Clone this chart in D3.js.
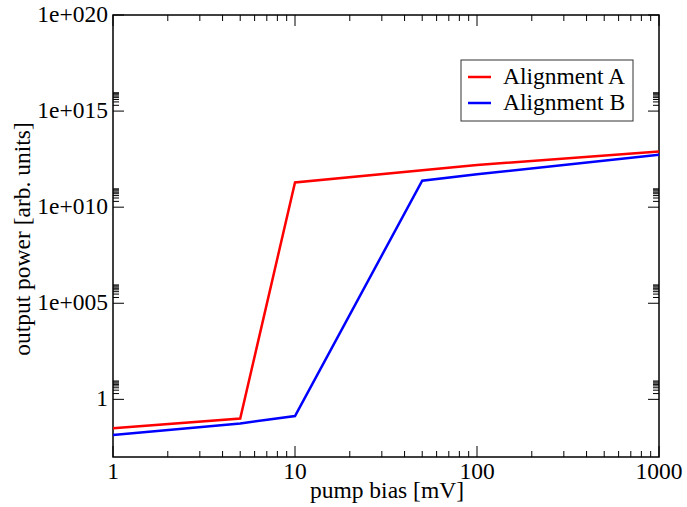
<!DOCTYPE html>
<html>
<head>
<meta charset="utf-8">
<script src="https://cdn.jsdelivr.net/npm/d3@7"></script>
<style>
  body { margin: 0; background: #fff; }
  svg { display: block; font-family: "Liberation Serif", "Times New Roman", serif; }
</style>
</head>
<body>
<svg id="chart"></svg>
<script>
// pump bias [mV] for each series
const biasA = [1, 5, 10, 100, 1000];
const powerA = [0.031, 0.1, 1.95e11, 1.55e12, 7.9e12];
const biasB = [1, 5, 10, 50, 100, 1000];
const powerB = [0.014, 0.056, 0.135, 2.4e11, 5.1e11, 5.3e12];

const seriesNames = ["Alignment A", "Alignment B"];
const seriesColors = ["#ff0000", "#0000ff"];

const xTicks = [1, 10, 100, 1000];
const yTicks = [1, 1e5, 1e10, 1e15, 1e20];

const width = 687, height = 507;
const margin = {top: 15, right: 28, bottom: 50, left: 113};
const FONT = "23.5px";

const svg = d3.select("#chart")
    .attr("width", width)
    .attr("height", height);

const x = d3.scaleLog()
    .domain([1, 1000])
    .range([margin.left, width - margin.right]);

const y = d3.scaleLog()
    .domain([1e-3, 1e20])
    .range([height - margin.bottom, margin.top]);

// minor ticks: 2..9 inside each x decade, and 2..9 times each y major
const xMinor = [];
xTicks.slice(0, -1).forEach(t => { for (let k = 2; k <= 9; k++) xMinor.push(t * k); });
const yMinor = [];
yTicks.slice(0, -1).forEach(t => { for (let k = 2; k <= 9; k++) yMinor.push(t * k); });

const x0 = margin.left, x1 = width - margin.right;
const y0 = height - margin.bottom, y1 = margin.top;
const MAJOR = 11, MINOR = 6;

const ticks = svg.append("g")
    .attr("stroke", "#000")
    .attr("stroke-width", 1);

// bottom & top x ticks (inward)
[[y0, -1], [y1, 1]].forEach(([yy, dir]) => {
    ticks.selectAll(null).data(xTicks).join("line")
        .attr("x1", d => x(d)).attr("x2", d => x(d))
        .attr("y1", yy).attr("y2", yy + dir * MAJOR);
    ticks.selectAll(null).data(xMinor).join("line")
        .attr("x1", d => x(d)).attr("x2", d => x(d))
        .attr("y1", yy).attr("y2", yy + dir * MINOR);
});

// left & right y ticks (inward)
[[x0, 1], [x1, -1]].forEach(([xx, dir]) => {
    ticks.selectAll(null).data(yTicks).join("line")
        .attr("x1", xx).attr("x2", xx + dir * MAJOR)
        .attr("y1", d => y(d)).attr("y2", d => y(d));
    ticks.selectAll(null).data(yMinor).join("line")
        .attr("x1", xx).attr("x2", xx + dir * MINOR)
        .attr("y1", d => y(d)).attr("y2", d => y(d));
});

// frame
svg.append("rect")
    .attr("x", x0).attr("y", y1)
    .attr("width", x1 - x0).attr("height", y0 - y1)
    .attr("fill", "none")
    .attr("stroke", "#000")
    .attr("stroke-width", 1.5);

// tick labels
const yFmt = d => {
    const e = Math.round(Math.log10(d));
    return e === 0 ? "1" : "1e+" + String(e).padStart(3, "0");
};

svg.append("g").selectAll("text")
    .data(xTicks).join("text")
    .attr("x", d => x(d))
    .attr("y", y0 + 22)
    .attr("text-anchor", "middle")
    .style("font-size", FONT)
    .text(d => d);

svg.append("g").selectAll("text")
    .data(yTicks).join("text")
    .attr("x", x0 - 5)
    .attr("y", d => y(d) + 7)
    .attr("text-anchor", "end")
    .style("font-size", FONT)
    .text(yFmt);

// axis titles
svg.append("text")
    .attr("x", (x0 + x1) / 2 + 1)
    .attr("y", 498)
    .attr("text-anchor", "middle")
    .style("font-size", FONT)
    .text("pump bias [mV]");

svg.append("text")
    .attr("transform", `translate(30,${(y0 + y1) / 2 + 3}) rotate(-90)`)
    .attr("text-anchor", "middle")
    .style("font-size", FONT)
    .text("output power [arb. units]");

// series lines
const line = d3.line()
    .x(d => x(d[0]))
    .y(d => y(d[1]));

const series = [
    d3.zip(biasA, powerA),
    d3.zip(biasB, powerB)
];

svg.append("g").selectAll("path")
    .data(series).join("path")
    .attr("d", line)
    .attr("fill", "none")
    .attr("stroke", (d, i) => seriesColors[i])
    .attr("stroke-width", 2.5)
    .attr("stroke-linejoin", "miter");

// legend
const legend = svg.append("g").attr("transform", "translate(461,60)");
legend.append("rect")
    .attr("width", 172).attr("height", 61)
    .attr("fill", "#fff")
    .attr("stroke", "#333")
    .attr("stroke-width", 1);

const legendItem = legend.selectAll("g.item")
    .data(seriesNames).join("g")
    .attr("class", "item")
    .attr("transform", (d, i) => `translate(0,${17 + i * 26})`);

legendItem.append("line")
    .attr("x1", 7).attr("x2", 30)
    .attr("stroke", (d, i) => seriesColors[i])
    .attr("stroke-width", 2.5);

legendItem.append("text")
    .attr("x", 42)
    .attr("y", 7)
    .style("font-size", FONT)
    .text(d => d);
</script>
</body>
</html>
